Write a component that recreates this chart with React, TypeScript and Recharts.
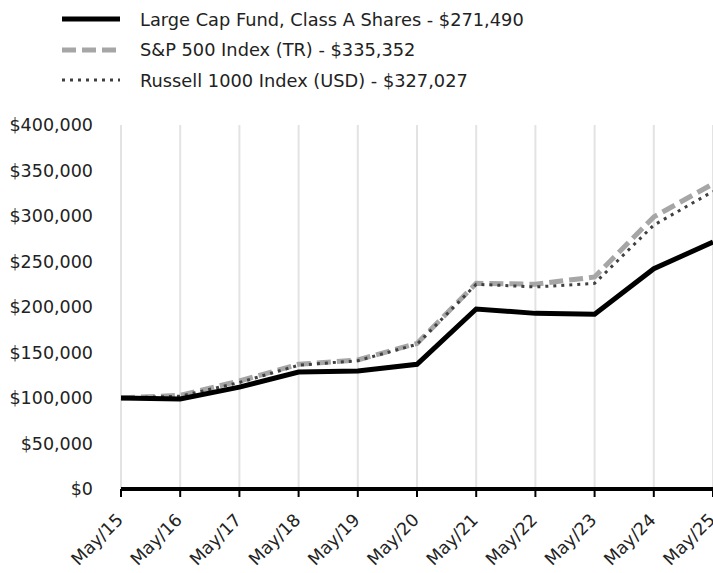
import React from 'react';
import { LineChart, Line, XAxis, YAxis, CartesianGrid } from 'recharts';

const years = ['May/15', 'May/16', 'May/17', 'May/18', 'May/19', 'May/20', 'May/21', 'May/22', 'May/23', 'May/24', 'May/25'];
const fund = [100000, 98900, 112000, 128600, 129700, 137000, 197800, 193000, 192000, 242000, 271490];
const sp500 = [100000, 103000, 118700, 137000, 141800, 160000, 226000, 225000, 233000, 299000, 335352];
const russell = [100000, 102000, 117000, 136000, 141000, 159000, 225000, 222000, 226000, 290000, 327027];
const yTicks = [0, 50000, 100000, 150000, 200000, 250000, 300000, 350000, 400000];

const legendItems = [
  { label: 'Large Cap Fund, Class A Shares - $271,490', color: '#000000', width: 5, dash: undefined },
  { label: 'S&P 500 Index (TR) - $335,352', color: '#a6a6a6', width: 5, dash: '14 6' },
  { label: 'Russell 1000 Index (USD) - $327,027', color: '#404040', width: 3, dash: '3 5' },
];

const data = years.map((y, i) => ({ year: y, fund: fund[i], sp500: sp500[i], russell: russell[i] }));

const FONT = '"DejaVu Sans", sans-serif';

function ChartLegend() {
  return (
    <div style={{ position: 'absolute', left: 0, top: 4, fontFamily: FONT, fontSize: 17.8, color: '#222' }}>
      {legendItems.map((it) => (
        <div key={it.label} style={{ display: 'flex', alignItems: 'center', height: 30.5 }}>
          <svg width={78} height={10} style={{ marginLeft: 62 }}>
            <line x1={0} y1={5} x2={58} y2={5} stroke={it.color} strokeWidth={it.width} strokeDasharray={it.dash} />
          </svg>
          <span>{it.label}</span>
        </div>
      ))}
    </div>
  );
}

function XTick(props: any) {
  const { x, y, payload } = props;
  const tx = x + 3;
  const ty = y + 22;
  return (
    <text
      x={tx}
      y={ty}
      textAnchor="end"
      fontFamily={FONT}
      fontSize={17.5}
      fill="#222"
      transform={`rotate(-45, ${tx}, ${ty})`}
    >
      {payload.value}
    </text>
  );
}

const fmt = (v: number) => '$' + v.toLocaleString('en-US');

export default function App() {
  return (
    <div style={{ position: 'absolute', left: 0, top: 0, width: 713, height: 573, background: '#fff' }}>
      <LineChart width={713} height={573} data={data} margin={{ top: 125, right: 0, bottom: 0, left: 0 }}>
        <CartesianGrid horizontal={false} stroke="#e3e3e3" strokeWidth={2} />
        <XAxis
          dataKey="year"
          height={84}
          axisLine={{ stroke: '#000', strokeWidth: 4 }}
          tickLine={{ stroke: '#000', strokeWidth: 2 }}
          tickSize={8}
          tick={<XTick />}
          interval={0}
        />
        <YAxis
          width={121}
          domain={[0, 400000]}
          ticks={yTicks}
          tickFormatter={fmt}
          axisLine={false}
          tickLine={false}
          tickSize={0}
          tickMargin={28}
          tick={{ fontFamily: FONT, fontSize: 17.5, fill: '#222' }}
        />
        <Line dataKey="sp500" stroke="#a6a6a6" strokeWidth={5} strokeDasharray="14 6" dot={false} isAnimationActive={false} />
        <Line dataKey="russell" stroke="#404040" strokeWidth={3} strokeDasharray="3 5" dot={false} isAnimationActive={false} />
        <Line dataKey="fund" stroke="#000" strokeWidth={5} dot={false} isAnimationActive={false} />
      </LineChart>
      <ChartLegend />
    </div>
  );
}
